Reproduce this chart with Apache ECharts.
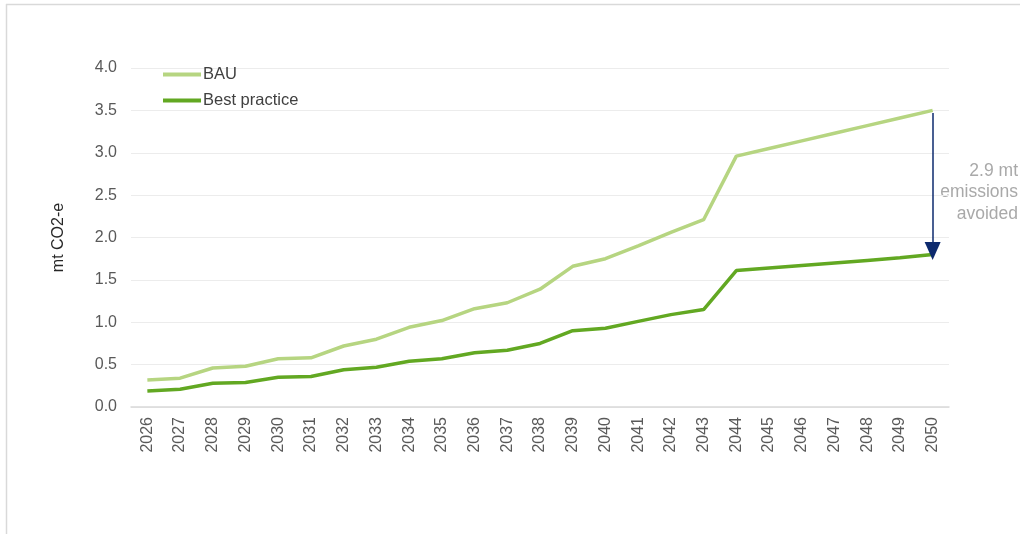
<!DOCTYPE html>
<html><head><meta charset="utf-8">
<script src="https://cdn.jsdelivr.net/npm/echarts@6/dist/echarts.min.js"></script>
<style>html,body{margin:0;padding:0;background:#fff}#c{width:1020px;height:534px}</style>
</head><body><div id="c"></div>
<script>
const years = ['2026','2027','2028','2029','2030','2031','2032','2033','2034','2035','2036','2037','2038','2039','2040','2041','2042','2043','2044','2045','2046','2047','2048','2049','2050'];
const bau = [0.32,0.34,0.46,0.48,0.57,0.58,0.72,0.80,0.94,1.02,1.16,1.23,1.39,1.66,1.75,1.90,2.06,2.21,2.96,3.05,3.14,3.23,3.32,3.41,3.50];
const best = [0.19,0.21,0.28,0.29,0.35,0.36,0.44,0.47,0.54,0.57,0.64,0.67,0.75,0.90,0.93,1.01,1.09,1.15,1.61,1.64,1.67,1.70,1.73,1.76,1.80];
const yTicks = ['0.0','0.5','1.0','1.5','2.0','2.5','3.0','3.5','4.0'];
const noteLines = ['2.9 mt', 'emissions', 'avoided'];
const font = 'Liberation Sans, Arial, sans-serif';
const chart = echarts.init(document.getElementById('c'));
chart.setOption({
  animation: false,
  grid: {left: 131, right: 71, top: 68, bottom: 127},
  legend: {
    left: 158, top: 61, orient: 'vertical', itemGap: 9,
    itemWidth: 38, itemHeight: 4,
    icon: 'rect',
    textStyle: {fontFamily: font, fontSize: 16.5, color: '#404040', padding: [0,0,0,-3]},
    data: ['BAU','Best practice']
  },
  xAxis: {
    type: 'category', data: years, boundaryGap: true,
    axisLine: {lineStyle: {color: '#d9d9d9', width: 1.5}},
    axisTick: {show: false},
    axisLabel: {rotate: 90, color: '#595959', fontFamily: font, fontSize: 16, margin: 10}
  },
  yAxis: {
    type: 'value', min: 0, max: 4, interval: 0.5,
    name: 'mt CO2-e', nameLocation: 'middle', nameGap: 64, nameRotate: 90,
    nameTextStyle: {fontFamily: font, fontSize: 16, color: '#262626'},
    axisLine: {show: false}, axisTick: {show: false},
    axisLabel: {color: '#595959', fontFamily: font, fontSize: 16, margin: 14,
      formatter: function(v){ return yTicks[Math.round(v*2)]; }},
    splitLine: {lineStyle: {color: '#ececec', width: 1}}
  },
  series: [
    {name: 'BAU', type: 'line', data: bau, symbol: 'none',
     lineStyle: {color: '#b6d581', width: 3.5}, itemStyle: {color: '#b6d581'}},
    {name: 'Best practice', type: 'line', data: best, symbol: 'none',
     lineStyle: {color: '#62a822', width: 3.5}, itemStyle: {color: '#62a822'},
     markLine: {
       silent: true, symbol: ['none','triangle'], symbolSize: [16, 18],
       lineStyle: {color: '#0d2a6e', width: 1.5, type: 'solid'},
       label: {show: false},
       data: [[{coord: ['2050', bau[bau.length-1] - 0.03]}, {coord: ['2050', best[best.length-1] + 0.04]}]]
     }}
  ],
  graphic: [
    {type: 'line', shape: {x1: 6, y1: 4.5, x2: 1020, y2: 4.5}, style: {stroke: '#d9d9d9', lineWidth: 1.5}},
    {type: 'line', shape: {x1: 6.5, y1: 4, x2: 6.5, y2: 534}, style: {stroke: '#d9d9d9', lineWidth: 1.5}}
  ].concat(noteLines.map(function(t, i){
    return {type: 'text', right: 2, top: 162 + i * 21.5, style: {text: t, fill: '#a9a9a9', font: '17.5px ' + font}};
  }))
});
</script></body></html>
